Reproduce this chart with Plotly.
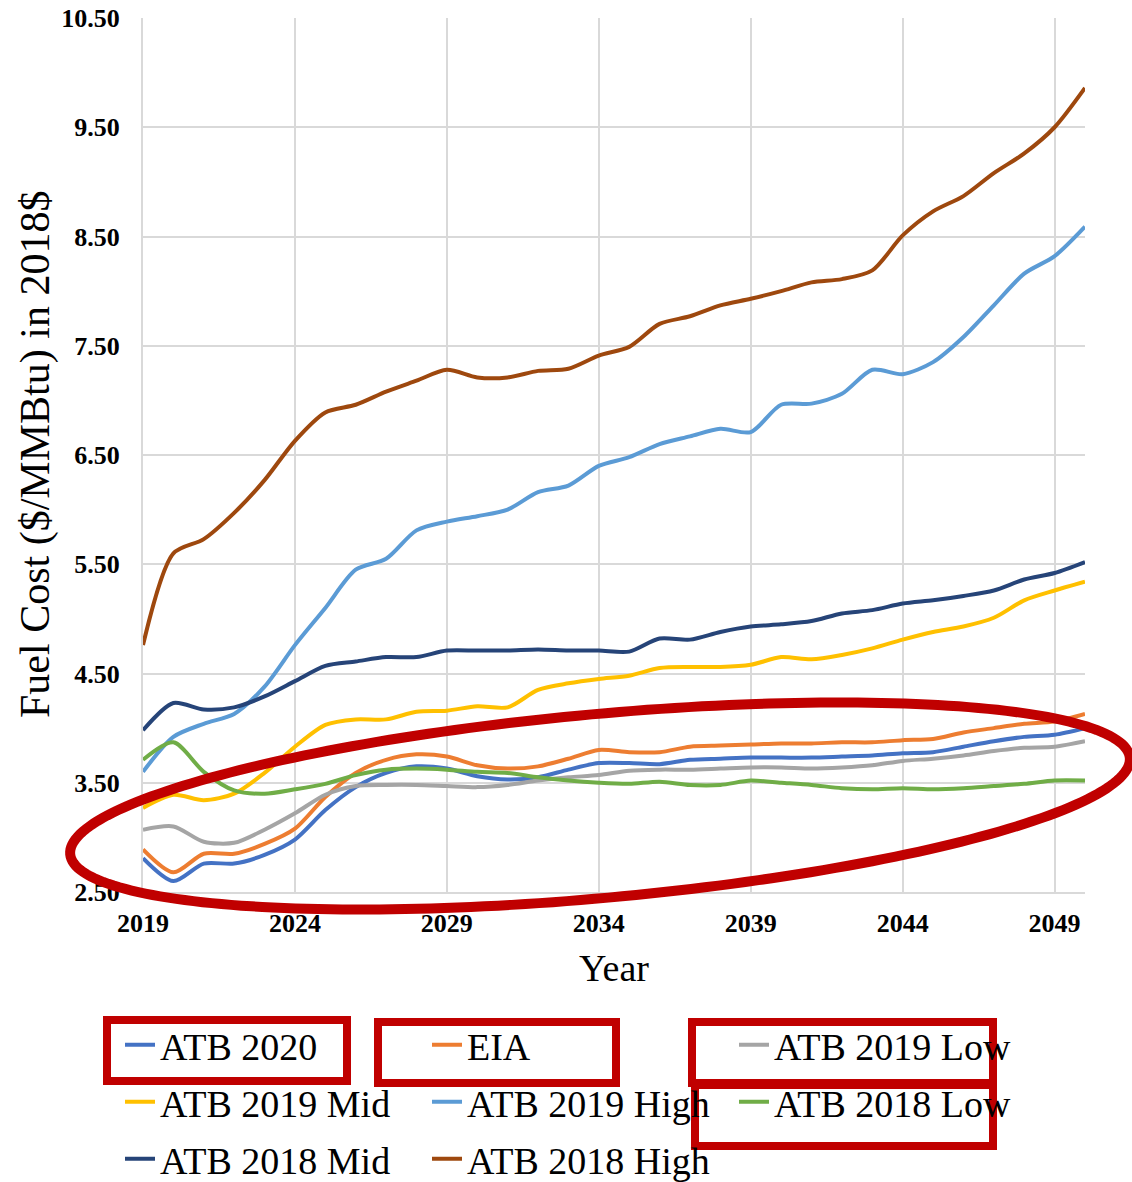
import math
import plotly.graph_objects as go

years = list(range(2019, 2051))

atb_2020 = [2.81, 2.60, 2.76, 2.76, 2.84, 2.98, 3.25, 3.46, 3.59, 3.65, 3.63, 3.56, 3.53, 3.55, 3.62, 3.68,
            3.68, 3.67, 3.71, 3.72, 3.73, 3.73, 3.73, 3.74, 3.75, 3.77, 3.78, 3.83, 3.88, 3.92, 3.94, 4.00]
eia = [2.89, 2.68, 2.85, 2.85, 2.94, 3.08, 3.37, 3.59, 3.71, 3.76, 3.74, 3.66, 3.63, 3.65, 3.72, 3.80,
       3.78, 3.78, 3.83, 3.84, 3.85, 3.86, 3.86, 3.87, 3.87, 3.89, 3.90, 3.96, 4.00, 4.04, 4.06, 4.13]
atb_2019_low = [3.07, 3.10, 2.96, 2.95, 3.07, 3.22, 3.39, 3.47, 3.48, 3.48, 3.47, 3.46, 3.48, 3.52, 3.55, 3.57,
                3.61, 3.62, 3.62, 3.63, 3.64, 3.64, 3.63, 3.64, 3.66, 3.70, 3.72, 3.75, 3.79, 3.82, 3.83, 3.88]
atb_2019_mid = [3.27, 3.39, 3.34, 3.40, 3.59, 3.83, 4.03, 4.08, 4.08, 4.15, 4.16, 4.20, 4.19, 4.35, 4.41, 4.45,
                4.48, 4.55, 4.56, 4.56, 4.58, 4.65, 4.63, 4.67, 4.73, 4.81, 4.88, 4.93, 5.01, 5.17, 5.26, 5.34]
atb_2019_high = [3.60, 3.92, 4.04, 4.13, 4.38, 4.76, 5.10, 5.45, 5.55, 5.81, 5.89, 5.94, 6.00, 6.16, 6.22, 6.40,
                 6.48, 6.60, 6.67, 6.74, 6.71, 6.96, 6.97, 7.06, 7.28, 7.24, 7.35, 7.58, 7.87, 8.16, 8.32, 8.59]
atb_2018_low = [3.71, 3.87, 3.60, 3.43, 3.40, 3.44, 3.49, 3.57, 3.62, 3.63, 3.62, 3.60, 3.59, 3.55, 3.52, 3.50,
                3.49, 3.51, 3.48, 3.48, 3.52, 3.50, 3.48, 3.45, 3.44, 3.45, 3.44, 3.45, 3.47, 3.49, 3.52, 3.52]
atb_2018_mid = [3.98, 4.23, 4.17, 4.19, 4.29, 4.43, 4.57, 4.61, 4.65, 4.65, 4.71, 4.71, 4.71, 4.72, 4.71, 4.71,
                4.70, 4.82, 4.81, 4.88, 4.93, 4.95, 4.98, 5.05, 5.08, 5.14, 5.17, 5.21, 5.26, 5.36, 5.42, 5.52]
atb_2018_high = [4.76, 5.60, 5.73, 5.97, 6.27, 6.63, 6.89, 6.96, 7.08, 7.18, 7.28, 7.21, 7.21, 7.27, 7.29, 7.41,
                 7.49, 7.70, 7.77, 7.87, 7.93, 8.00, 8.08, 8.11, 8.19, 8.51, 8.73, 8.87, 9.08, 9.26, 9.50, 9.86]

series_names = ["ATB 2020", "EIA", "ATB 2019 Low", "ATB 2019 Mid", "ATB 2019 High",
                "ATB 2018 Low", "ATB 2018 Mid", "ATB 2018 High"]
series_values = [atb_2020, eia, atb_2019_low, atb_2019_mid, atb_2019_high,
                 atb_2018_low, atb_2018_mid, atb_2018_high]
series_colors = ["#4472C4", "#ED7D31", "#A5A5A5", "#FFC000", "#5B9BD5",
                 "#70AD47", "#264478", "#9E480E"]
legend_rows = ["legend", "legend", "legend", "legend2", "legend2", "legend2", "legend3", "legend3"]

x_tick_vals = [2019, 2024, 2029, 2034, 2039, 2044, 2049]
y_tick_vals = [2.5, 3.5, 4.5, 5.5, 6.5, 7.5, 8.5, 9.5, 10.5]

FONT = "Liberation Serif, Times New Roman, serif"
W, H = 1132, 1182
# plot area in page pixels
PL, PR, PT, PB = 143, 1085, 18, 892


def P(px, py):
    """page pixel -> paper coords"""
    return (px - PL) / (PR - PL), (PB - py) / (PB - PT)


fig = go.Figure()
for name, vals, col, lg in zip(series_names, series_values, series_colors, legend_rows):
    fig.add_trace(go.Scatter(x=years, y=vals, name=name, mode="lines", legend=lg,
                             line=dict(color=col, width=4, shape="spline", smoothing=0.8)))

# red highlight ellipse
cx, cy, a, b, th = 600, 806, 532, 92, math.radians(5.2)
pts = []
for i in range(241):
    t = 2 * math.pi * i / 240
    px = cx + a * math.cos(t) * math.cos(th) + b * math.sin(t) * math.sin(th)
    py = cy - a * math.cos(t) * math.sin(th) + b * math.sin(t) * math.cos(th)
    pts.append(P(px, py))
path = "M " + " L ".join(f"{u:.5f},{v:.5f}" for u, v in pts) + " Z"
shapes = [dict(type="path", path=path, xref="paper", yref="paper",
               line=dict(color="#C00000", width=10), layer="above")]

# red highlight boxes around legend entries
boxes = [(107, 1020, 347, 1081), (378, 1022, 616, 1083), (692, 1022, 993, 1083), (695, 1085, 993, 1146)]
for x0, y0, x1, y1 in boxes:
    u0, v0 = P(x0, y0)
    u1, v1 = P(x1, y1)
    shapes.append(dict(type="rect", xref="paper", yref="paper", x0=u0, y0=v0, x1=u1, y1=v1,
                       line=dict(color="#C00000", width=8), layer="above"))


def legend_at(row_center_y):
    u, v = P(162 - 42, row_center_y)
    return dict(orientation="h", x=u, y=v, xanchor="left", yanchor="middle",
                font=dict(family=FONT, size=38, color="black"),
                entrywidth=262, entrywidthmode="pixels",
                bgcolor="rgba(0,0,0,0)", traceorder="normal")


tx, ty = P(35, 455)
fig.update_layout(
    width=W, height=H,
    margin=dict(l=PL, r=W - PR, t=PT, b=H - PB, autoexpand=False),
    paper_bgcolor="white", plot_bgcolor="white",
    font=dict(family=FONT, color="black"),
    shapes=shapes,
    showlegend=True,
    legend=legend_at(1045),
    legend2=legend_at(1102),
    legend3=legend_at(1159),
    annotations=[dict(text="Fuel Cost ($/MMBtu) in 2018$", xref="paper", yref="paper", x=tx, y=ty,
                      xanchor="center", yanchor="middle", textangle=-90, showarrow=False,
                      font=dict(family=FONT, size=42, color="black"))],
)
fig.update_xaxes(range=[2019, 2050], tickvals=x_tick_vals, ticktext=[str(v) for v in x_tick_vals],
                 showgrid=True, gridcolor="#D9D9D9", gridwidth=2,
                 showline=True, linecolor="#D9D9D9", linewidth=2, automargin=False,
                 zeroline=False, ticks="", ticklabelstandoff=7, ticklabeloverflow="allow",
                 tickfont=dict(family=FONT, size=26, color="black", weight="bold"),
                 title=dict(text="Year", font=dict(family=FONT, size=38, color="black"), standoff=17))
fig.update_yaxes(range=[2.5, 10.5], tickvals=y_tick_vals, tickformat=".2f",
                 showgrid=True, gridcolor="#D9D9D9", gridwidth=2,
                 showline=True, linecolor="#D9D9D9", linewidth=2, automargin=False,
                 zeroline=False, ticks="", ticklabelstandoff=16, ticklabeloverflow="allow",
                 tickfont=dict(family=FONT, size=26, color="black", weight="bold"))

fig.write_html("out.html", config={"displayModeBar": False},
               post_script="document.body.style.margin='0px';document.body.style.overflow='hidden';")
